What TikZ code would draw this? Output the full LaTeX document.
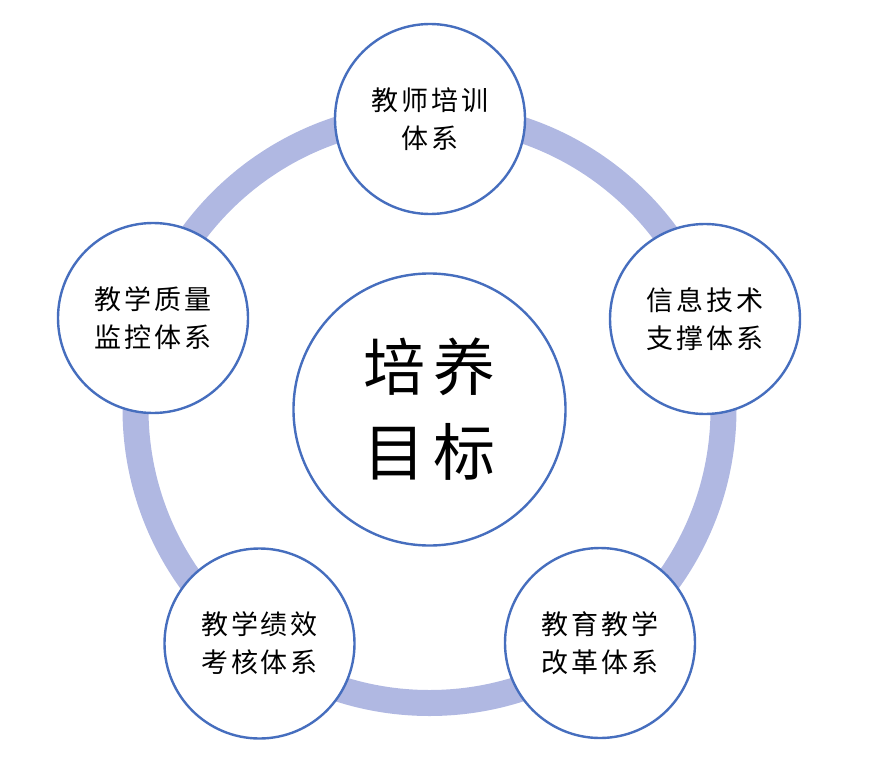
\documentclass[tikz,border=0pt]{standalone}
\usepackage{fontspec}
\newfontfamily\cjk{Noto Sans CJK SC}
\definecolor{ringcol}{RGB}{176,184,226}
\definecolor{bordercol}{RGB}{70,110,190}
\newcommand{\cjsp}{\hspace{3pt}}
\begin{document}
\begin{tikzpicture}[x=1pt,y=-1pt,
  sat/.style={circle,draw=bordercol,line width=2.4pt,fill=white,minimum size=190pt,inner sep=0pt,align=center,font=\cjk\fontsize{27}{38}\selectfont},
  hub/.style={circle,draw=bordercol,line width=2.4pt,fill=white,minimum size=272pt,inner sep=0pt,align=center,font=\cjk\fontsize{62}{85}\selectfont}]
\useasboundingbox (0,0) rectangle (872,757);
\coordinate (o) at (429.5,409);
\draw[ringcol,line width=26pt] (o) circle[radius=294pt];
\node[hub] (c) at (429.5,409.5) {培\hspace{8pt}养\\目\hspace{8pt}标};
\node[sat] (t) at (430,119) {教\cjsp 师\cjsp 培\cjsp 训\\体\cjsp 系};
\node[sat] (r) at (705,319) {信\cjsp 息\cjsp 技\cjsp 术\\支\cjsp 撑\cjsp 体\cjsp 系};
\node[sat] (br) at (600,643) {教\cjsp 育\cjsp 教\cjsp 学\\改\cjsp 革\cjsp 体\cjsp 系};
\node[sat] (bl) at (259.5,643.5) {教\cjsp 学\cjsp 绩\cjsp 效\\考\cjsp 核\cjsp 体\cjsp 系};
\node[sat] (l) at (153,318) {教\cjsp 学\cjsp 质\cjsp 量\\监\cjsp 控\cjsp 体\cjsp 系};
\end{tikzpicture}
\end{document}
